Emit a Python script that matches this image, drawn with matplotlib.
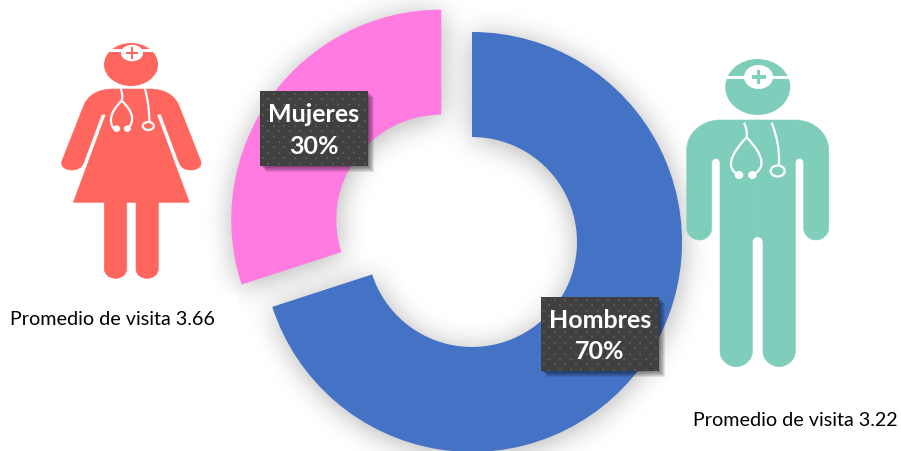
import matplotlib
matplotlib.use("Agg")
import matplotlib.pyplot as plt
import numpy as np
from matplotlib.patches import Ellipse, PathPatch, Rectangle
from matplotlib.path import Path

plt.rcParams['font.family'] = ['Lato', 'DejaVu Sans']

# Data
labels = ["Hombres", "Mujeres"]
shares = [70, 30]
colors = ["#4472C4", "#FF7BE2"]
visit_labels = ["Promedio de visita 3.66", "Promedio de visita 3.22"]

RED = "#FF665E"
TEAL = "#7FCEBB"
W, H = 901, 452

fig = plt.figure(figsize=(W / 100, H / 100), dpi=100, facecolor="white")

# Donut, y goes up on this axes
ax = fig.add_axes([0, 0, 1, 1])
wedges, _ = ax.pie(shares, colors=colors, startangle=90, counterclock=False,
                   center=(472, H - 243), radius=210, explode=[0, 38],
                   wedgeprops=dict(width=105, linewidth=0))
for w in wedges:
    w.set_zorder(5)


def box_blur(a, r, axis):
    pad = [(0, 0), (0, 0)]
    pad[axis] = (r + 1, r)
    c = np.cumsum(np.pad(a, pad, mode="constant"), axis=axis)
    if axis == 0:
        return (c[2 * r + 1:, :] - c[:-2 * r - 1, :]) / (2 * r + 1)
    return (c[:, 2 * r + 1:] - c[:, :-2 * r - 1]) / (2 * r + 1)


# Soft shadow, blurred from the wedge shapes
margin = 60
xx, yy = np.meshgrid(np.arange(-margin, W + margin) + 0.5, np.arange(-margin, H + margin) + 0.5)
grid = np.column_stack([xx.ravel(), yy.ravel()])
mask = np.zeros(xx.shape)
for w in wedges:
    inside = w.get_path().contains_points(grid, transform=w.get_patch_transform())
    mask = np.maximum(mask, inside.reshape(xx.shape).astype(float))
for _ in range(3):
    mask = box_blur(mask, 13, 0)
    mask = box_blur(mask, 13, 1)
shadow = np.zeros(mask.shape + (4,))
shadow[..., 3] = mask * 0.3
ax.imshow(shadow, origin="lower", extent=(-margin + 1, W + margin + 1, -margin - 3, H + margin - 3),
          zorder=1, interpolation="bilinear")
ax.set_xlim(0, W)
ax.set_ylim(0, H)
ax.set_aspect("auto")
ax.axis("off")

# Overlay in picture pixels, y goes down
ov = fig.add_axes([0, 0, 1, 1])
ov.axis("off")
ov.patch.set_alpha(0)


def half_shape(segments, axis, ox, oy, color):
    # segments are in zoomed coordinates (3x), drawn on both sides of the axis
    for side in (1, -1):
        verts, codes = [], []
        for code, pts in segments:
            for x, y in pts:
                xx_ = axis + side * (x - axis)
                verts.append((ox + xx_ / 3, oy + y / 3))
                codes.append(code)
        verts.append(verts[0])
        codes.append(Path.CLOSEPOLY)
        ov.add_patch(PathPatch(Path(verts, codes), facecolor=color, edgecolor=color, linewidth=0.4))


def tube(points, ox, oy, lw=1.6):
    verts = [(ox + p[0] / 3, oy + p[1] / 3) for p in points]
    codes = [Path.MOVETO] + [Path.CURVE3] * (len(verts) - 1)
    ov.add_patch(PathPatch(Path(verts, codes), facecolor="none", edgecolor="white", linewidth=lw))


def head(cx, cy, w, h, bx, by, bw, bh, band_y, band_h, cross, t, color):
    ov.add_patch(Ellipse((cx, cy), w, h, facecolor=color, linewidth=0))
    ov.add_patch(Rectangle((cx - w / 2 - 1, band_y), w + 2, band_h, facecolor="white", linewidth=0))
    ov.add_patch(Ellipse((bx, by), bw, bh, facecolor="white", linewidth=0))
    ov.add_patch(Rectangle((bx - cross, by - t / 2), 2 * cross, t, facecolor=color, linewidth=0))
    ov.add_patch(Rectangle((bx - t / 2, by - cross), t, 2 * cross, facecolor=color, linewidth=0))


# Nurse, left
M, L, C = Path.MOVETO, Path.LINETO, Path.CURVE4
nurse = [
    (M, [(244, 177)]),
    (L, [(190, 177)]),
    (C, [(150, 177), (120, 190), (103, 222)]),
    (L, [(37, 390)]),
    (C, [(28, 412), (50, 420), (65, 420)]),
    (C, [(82, 420), (94, 414), (100, 400)]),
    (L, [(155, 253), (168, 253), (70, 517), (163, 517), (163, 715)]),
    (C, [(163, 735), (180, 745), (197, 745)]),
    (C, [(214, 745), (230, 735), (230, 715)]),
    (L, [(230, 517), (244, 517)]),
]
half_shape(nurse, 244, 50, 30, RED)
head(131, 64.5, 54, 43, 132, 53, 22, 16.5, 49, 2.6, 6, 2.8, RED)
tube([(212, 177), (220, 195), (215, 212)], 50, 30)
tube([(215, 212), (165, 262), (192, 297)], 50, 30)
tube([(215, 212), (268, 262), (232, 297)], 50, 30)
tube([(285, 177), (298, 225), (298, 275)], 50, 30)
ov.add_patch(Ellipse((50 + 200 / 3, 30 + 296 / 3), 7, 6.5, facecolor="white", linewidth=0))
ov.add_patch(Ellipse((50 + 232 / 3, 30 + 296 / 3), 7, 6.5, facecolor="white", linewidth=0))
ov.add_patch(Ellipse((50 + 295 / 3, 30 + 288 / 3), 11, 8, facecolor="none", edgecolor="white", linewidth=1.6))

# Doctor, right
doctor = [
    (M, [(248, 210)]),
    (L, [(135, 210)]),
    (C, [(80, 210), (35, 250), (35, 300)]),
    (L, [(35, 535)]),
    (C, [(35, 555), (55, 570), (73, 570)]),
    (C, [(92, 570), (110, 555), (110, 535)]),
    (L, [(110, 340)]),
    (C, [(110, 320), (135, 320), (135, 340)]),
    (L, [(135, 905)]),
    (C, [(135, 930), (160, 950), (183, 950)]),
    (C, [(208, 950), (232, 930), (232, 905)]),
    (L, [(232, 578)]),
    (C, [(232, 560), (248, 560), (248, 560)]),
]
half_shape(doctor, 248, 675, 50, TEAL)
head(757.7, 87, 65, 56, 758.5, 77, 29, 24, 76, 3, 7, 3.3, TEAL)
tube([(207, 218), (218, 240), (215, 262)], 675, 50)
tube([(215, 262), (135, 345), (190, 375)], 675, 50)
tube([(215, 262), (295, 345), (232, 375)], 675, 50)
tube([(290, 218), (315, 280), (312, 345)], 675, 50)
ov.add_patch(Ellipse((675 + 192 / 3, 50 + 375 / 3), 8.5, 8, facecolor="white", linewidth=0))
ov.add_patch(Ellipse((675 + 232 / 3, 50 + 375 / 3), 8.5, 8, facecolor="white", linewidth=0))
ov.add_patch(Ellipse((675 + 308 / 3, 50 + 363 / 3), 14, 11, facecolor="none", edgecolor="white", linewidth=1.6))

# Visit captions
ov.add_patch(Rectangle((0, 294), 237, 50, facecolor="white", linewidth=0))
ov.text(112.5, 319, visit_labels[0], ha="center", va="center", fontsize=14.2, color="black")
ov.text(795.5, 420, visit_labels[1], ha="center", va="center", fontsize=14.2, color="black")


def label_box(x0, y0, x1, y1, text):
    for d in range(6, 0, -1):
        ov.add_patch(Rectangle((x0 + d, y0 + d), x1 - x0, y1 - y0, facecolor="black",
                               alpha=0.09, linewidth=0))
    ov.add_patch(Rectangle((x0, y0), x1 - x0, y1 - y0, facecolor="#404040", linewidth=0))
    # dotted fill of the box
    dots_x, dots_y = [], []
    for i, y in enumerate(np.arange(y0 + 3, y1, 5.35)):
        for x in np.arange(x0 + 3 + (i % 2) * 5.35, x1 - 1, 10.7):
            dots_x.append(x)
            dots_y.append(y)
    ov.scatter(dots_x, dots_y, s=3.5, marker="s", color="#565656", linewidths=0)
    ov.text((x0 + x1) / 2, (y0 + y1) / 2 + 1, text, ha="center", va="center", color="white",
            fontsize=18, fontweight="bold", linespacing=1.45)


label_box(260, 91, 368, 166, f"{labels[1]}\n{shares[1]}%")
label_box(541, 297, 659, 371, f"{labels[0]}\n{shares[0]}%")
ov.set_xlim(0, W)
ov.set_ylim(H - 1, -1)

fig.savefig("out.png", dpi=100)
